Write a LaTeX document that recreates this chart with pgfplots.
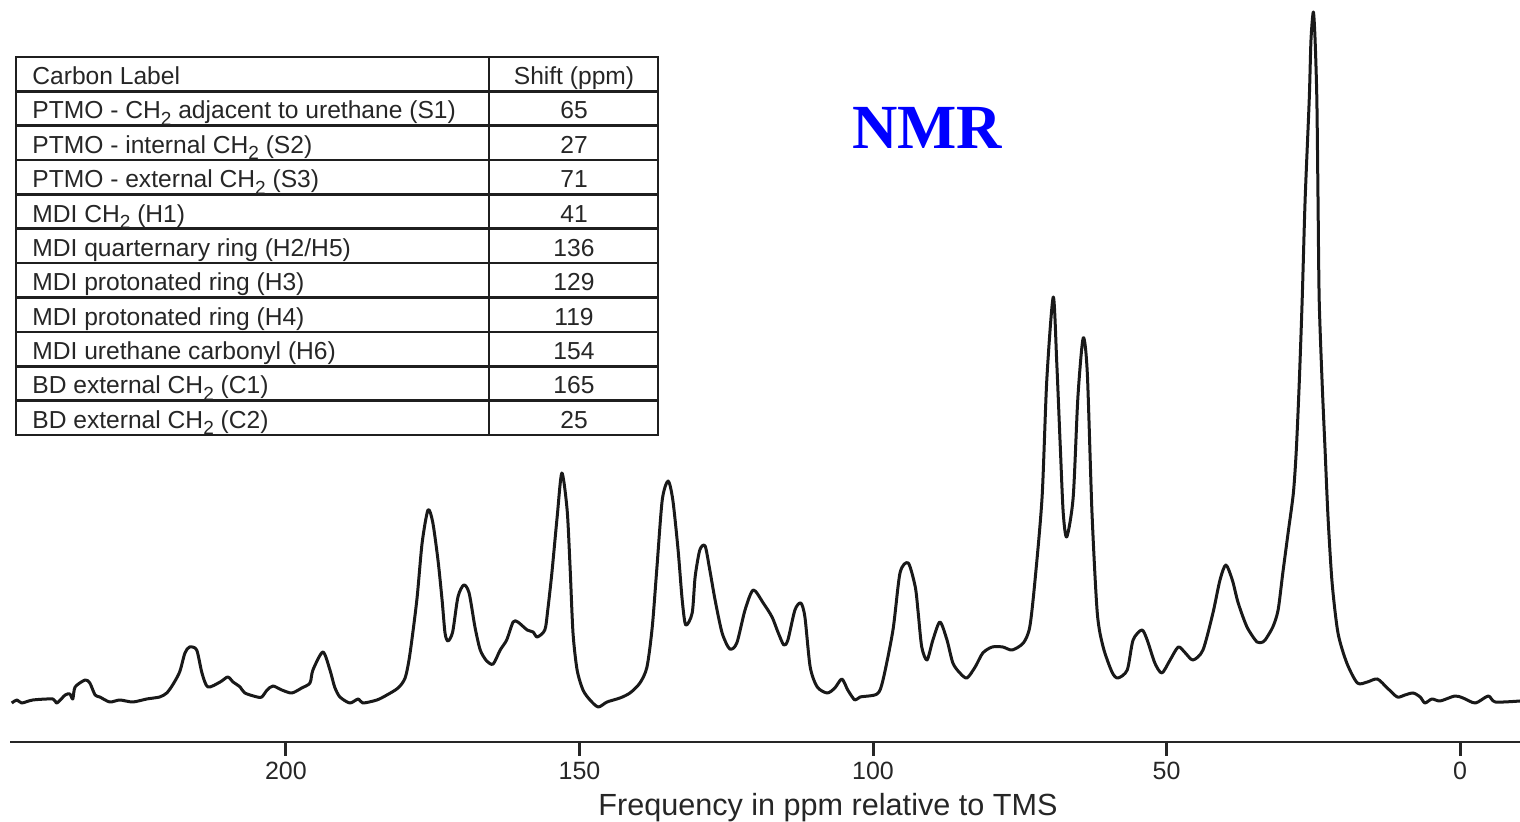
\documentclass[border=0pt]{standalone}
\usepackage{pgfplots}
\pgfplotsset{compat=1.18}
\usepackage{fontspec}
\setmainfont{Liberation Sans}
\newfontfamily\timesbold{Liberation Serif}
\newcommand\sub[1]{\raisebox{-0.5ex}{\fontsize{9.5}{9.5}\selectfont #1}}
\begin{document}
\begin{tikzpicture}
\useasboundingbox (0,0) rectangle (760pt,411pt);
\begin{axis}[
  at={(5pt,40pt)}, anchor=south west,
  scale only axis, width=755pt, height=371pt,
  xmin=-10.2, xmax=247, x dir=reverse,
  ymin=0, ymax=742,
  hide y axis,
  axis x line=bottom,
  x axis line style={-, line width=1.4pt, black!85},
  xtick={0,50,100,150,200},
  xtick align=outside,
  major tick length=6.5pt,
  every tick/.style={black!85, line width=1.4pt},
  /pgf/number format/assume math mode=true,
  xticklabel style={font=\fontsize{12.5}{12.5}\selectfont, text=black!85, anchor=base, yshift=-12.5pt},
  xlabel={Frequency in ppm relative to TMS},
  xlabel style={at={(axis description cs:0.5417,-0.0997)}, anchor=base, font=\fontsize{15.3}{15.3}\selectfont, text=black!85},
  clip=false,
]
\addplot[black!90, line width=1.5pt, line join=round, smooth, tension=0.45] coordinates {
(246.7,39)(245.8,42)(245.0,39)(243.1,42)(239.7,43)(239.0,39)(237.6,47)(236.8,48)(236.3,43)(235.9,55)(234.2,62)(233.4,59)(232.5,47)(231.7,45)(230.0,40)(228.3,42)(226.1,40)(223.7,43)(221.5,45)(220.3,49)(219.3,57)(218.1,70)(217.2,89)(216.4,95)(215.2,92)(214.3,69)(213.3,55)(211.2,60)(209.9,65)(209.0,60)(207.8,55)(207.0,49)(204.9,45)(204.1,45)(203.2,52)(202.2,56)(200.7,52)(199.0,49)(197.3,54)(195.9,59)(195.4,72)(193.7,90)(192.5,72)(191.7,55)(190.8,45)(189.1,39)(187.7,43)(186.9,39)(184.5,42)(182.8,47)(180.9,54)(179.7,64)
(178.9,87)(177.7,142)(176.8,199)(175.8,232)(175.0,220)(174.1,182)(173.4,142)(172.9,109)(172.4,101)(171.6,110)(170.7,145)(169.7,157)(168.8,149)(167.8,115)(166.9,92)(165.8,81)(164.7,78)(163.5,92)(162.4,102)(161.3,120)(160.5,120)(158.9,112)(157.9,110)(157.2,105)(155.9,112)(155.4,132)(154.7,169)(153.8,225)(153.0,269)(152.1,232)(151.6,175)(151.1,109)(150.4,72)(149.4,52)(148.2,42)(146.8,35)(145.3,40)(143.1,44)(141.4,49)(139.7,59)(138.5,75)(137.6,115)(136.8,175)(135.9,242)(134.9,261)(134.1,242)(133.2,192)(132.5,142)(131.9,117)(130.8,129)(130.3,165)(129.5,192)(128.6,196)(127.8,172)(126.9,142)(125.7,109)(124.4,93)(123.2,99)(121.8,132)(120.4,152)(118.7,139)(117.2,125)(116.2,110)(115.2,97)(114.5,102)(113.3,132)(112.3,139)(111.6,125)(110.7,75)(109.5,55)(107.8,49)(106.5,54)(105.3,63)(104.3,52)(103.1,42)(102.2,45)(99.3,48)
(98.3,62)(96.6,112)(95.4,169)(94.0,179)(92.8,155)(92.3,129)(91.7,95)(90.8,82)(89.8,102)(88.6,120)(87.4,102)(86.4,79)(85.2,69)(84.0,64)(82.6,75)(81.3,89)(79.7,95)(77.9,95)(76.3,92)(74.4,99)(73.3,115)(72.4,162)(71.2,245)(70.4,362)(69.3,445)(68.7,379)(68.1,295)(67.6,229)(67.0,205)(65.9,245)(65.1,345)(64.2,404)(63.5,369)(62.7,229)(61.8,129)(60.8,95)(59.3,70)(58.3,64)(56.7,72)(55.7,102)(54.2,112)(53.3,102)(52.0,79)(50.8,69)(49.4,82)(48.0,95)(46.8,89)(45.5,82)(43.8,92)(42.1,129)(40.9,162)(39.9,177)(38.8,162)(37.8,139)(36.3,115)(34.6,100)(33.6,100)(33.2,102)(31.9,115)(31.0,132)(30.2,169)(29.3,209)(28.4,249)(27.9,292)(27.4,359)(26.9,442)(26.4,542)(25.7,642)(25.4,702)(25.0,730)(24.7,702)(24.4,642)(24.2,542)(24.0,442)(23.5,359)(23.0,292)(22.5,225)(21.8,159)(20.8,109)(19.3,79)(17.5,59)(15.8,60)(14.1,63)(12.4,54)(10.7,45)(9.4,47)(8.0,49)(6.8,45)(6.0,39)(4.8,43)(3.4,41)(0.9,46)(-0.5,44)(-2.6,39)(-4.8,46)(-6.0,40)(-10.2,41)
};
\end{axis}
% tick marks at the axis positions of 200, 150, 100, 50, 0 ppm
\foreach \tx in {142.97,289.74,436.51,583.28,730.06} {
  \draw[line width=1.5pt, black!85] (\tx pt,40.5pt) -- (\tx pt,33pt);
}
% table
\def\rh{17.18}
\begin{scope}[line width=1.3pt, black!88]
  \draw (8pt,382.5pt) rectangle (329pt,193.5pt);
  \draw (244.5pt,382.5pt) -- (244.5pt,193.5pt);
  \foreach \k in {1,...,10} {\draw (8pt,{382.5pt-\k*\rh pt}) -- (329pt,{382.5pt-\k*\rh pt});}
\end{scope}
\begin{scope}[font=\fontsize{12.3}{12.3}\selectfont, text=black!85]
\foreach [count=\i from 0] \a/\b in {
  {Carbon Label}/{Shift (ppm)},
  {PTMO - CH\sub{2} adjacent to urethane (S1)}/65,
  {PTMO - internal CH\sub{2} (S2)}/27,
  {PTMO - external CH\sub{2} (S3)}/71,
  {MDI CH\sub{2} (H1)}/41,
  {MDI quarternary ring (H2/H5)}/136,
  {MDI protonated ring (H3)}/129,
  {MDI protonated ring (H4)}/119,
  {MDI urethane carbonyl (H6)}/154,
  {BD external CH\sub{2} (C1)}/165,
  {BD external CH\sub{2} (C2)}/25} {
  \node[anchor=base west, inner sep=0pt] at (16pt,{382.5pt-(\i+0.5)*\rh pt-5.2pt}) {\a};
  \node[anchor=base, inner sep=0pt] at (287pt,{382.5pt-(\i+0.5)*\rh pt-5.2pt}) {\b};
}
\end{scope}
\node[text=blue, font=\timesbold\bfseries\fontsize{31.4}{31.4}\selectfont, inner sep=0pt] at (463.5pt,347pt) {NMR};
\end{tikzpicture}
\end{document}
